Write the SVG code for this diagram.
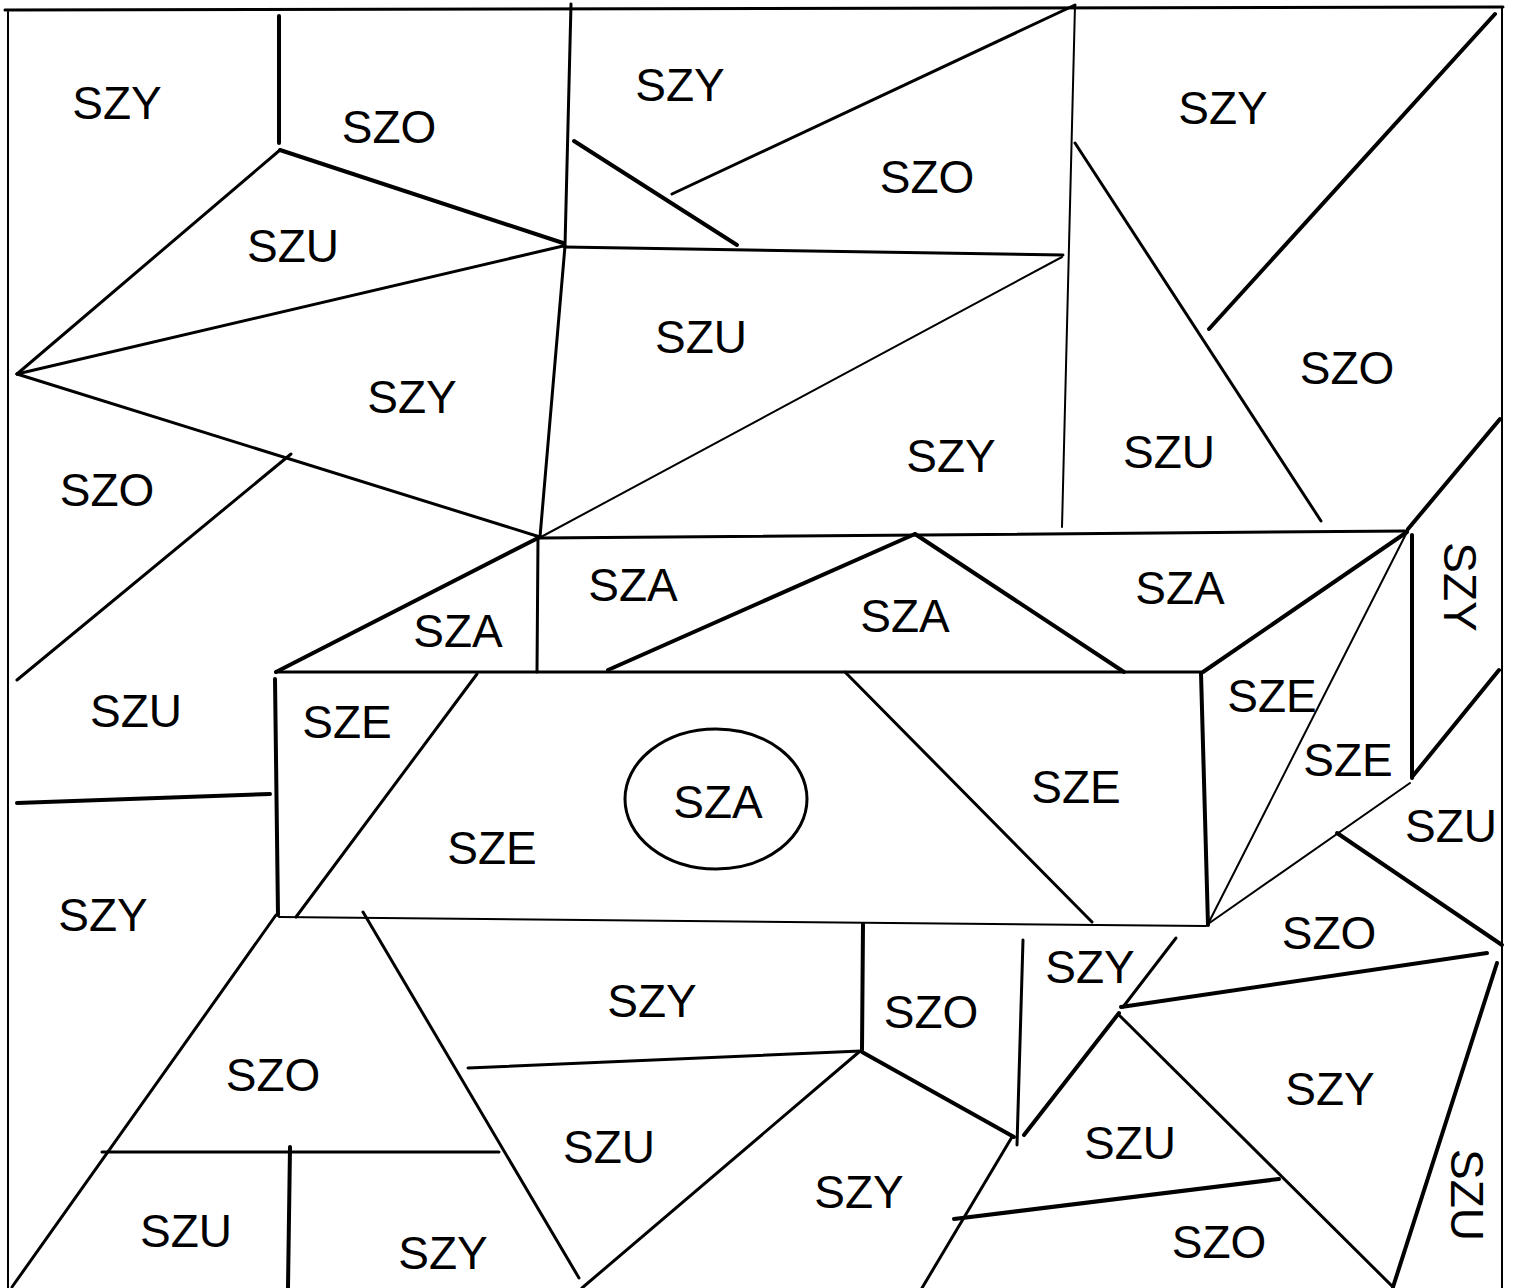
<svg xmlns="http://www.w3.org/2000/svg" width="1518" height="1288" viewBox="0 0 1518 1288">
<style>
line,ellipse{stroke:#000;fill:none;stroke-linecap:round}
.t{stroke-width:4}
.m{stroke-width:3}
.n{stroke-width:2}
text{font-family:"Liberation Sans",Arial,sans-serif;font-size:46px;fill:#000;text-anchor:middle}
</style>
<rect width="1518" height="1288" fill="#fff"/>
<g id="lines">
<line class="m" x1="5" y1="10" x2="1503" y2="7"/>
<line class="n" x1="8" y1="12" x2="8" y2="1288"/>
<line class="n" x1="1502" y1="8" x2="1502" y2="1288"/>
<line class="t" x1="279" y1="16" x2="279" y2="143"/>
<line class="t" x1="280" y1="150" x2="563" y2="243"/>
<line class="m" x1="280" y1="150" x2="17" y2="374"/>
<line class="m" x1="17" y1="374" x2="563" y2="246"/>
<line class="m" x1="17" y1="374" x2="540" y2="537"/>
<line class="m" x1="291" y1="454" x2="17" y2="680"/>
<line class="m" x1="571" y1="4" x2="565" y2="246"/>
<line class="m" x1="565" y1="246" x2="540" y2="537"/>
<line class="t" x1="574" y1="141" x2="737" y2="245"/>
<line class="m" x1="672" y1="194" x2="1075" y2="5"/>
<line class="m" x1="564" y1="247" x2="1063" y2="255"/>
<line class="n" x1="1062" y1="257" x2="541" y2="537"/>
<line class="n" x1="1075" y1="5" x2="1062" y2="527"/>
<line class="m" x1="1075" y1="143" x2="1321" y2="521"/>
<line class="t" x1="1209" y1="329" x2="1495" y2="14"/>
<line class="t" x1="1500" y1="419" x2="1408" y2="529"/>
<line class="m" x1="540" y1="538" x2="1407" y2="531"/>
<line class="m" x1="538" y1="538" x2="537" y2="672"/>
<line class="t" x1="540" y1="537" x2="276" y2="672"/>
<line class="m" x1="276" y1="672" x2="1201" y2="672"/>
<line class="t" x1="608" y1="670" x2="915" y2="534"/>
<line class="t" x1="915" y1="534" x2="1124" y2="672"/>
<line class="t" x1="1203" y1="672" x2="1407" y2="532"/>
<line class="n" x1="1407" y1="532" x2="1208" y2="924"/>
<line class="t" x1="1412" y1="535" x2="1412" y2="778"/>
<line class="t" x1="1412" y1="777" x2="1499" y2="670"/>
<line class="n" x1="1208" y1="924" x2="1410" y2="783"/>
<line class="t" x1="1337" y1="833" x2="1502" y2="945"/>
<line class="t" x1="1201" y1="673" x2="1208" y2="925"/>
<line class="t" x1="275" y1="679" x2="278" y2="915"/>
<line class="m" x1="477" y1="674" x2="296" y2="917"/>
<line class="m" x1="845" y1="672" x2="1092" y2="922"/>
<line class="t" x1="17" y1="803" x2="270" y2="794"/>
<line class="n" x1="279" y1="917" x2="1206" y2="926"/>
<ellipse class="m" cx="716" cy="799" rx="91" ry="70"/>
<line class="m" x1="276" y1="915" x2="12" y2="1287"/>
<line class="m" x1="363" y1="912" x2="579" y2="1278"/>
<line class="m" x1="468" y1="1068" x2="861" y2="1051"/>
<line class="m" x1="102" y1="1152" x2="499" y2="1152"/>
<line class="t" x1="290" y1="1147" x2="288" y2="1288"/>
<line class="m" x1="582" y1="1288" x2="859" y2="1052"/>
<line class="t" x1="863" y1="924" x2="862" y2="1050"/>
<line class="t" x1="862" y1="1052" x2="1014" y2="1137"/>
<line class="m" x1="1023" y1="940" x2="1017" y2="1145"/>
<line class="m" x1="1176" y1="938" x2="1123" y2="1007"/>
<line class="t" x1="1119" y1="1013" x2="1024" y2="1135"/>
<line class="t" x1="1121" y1="1007" x2="1487" y2="953"/>
<line class="t" x1="1497" y1="963" x2="1393" y2="1287"/>
<line class="m" x1="1119" y1="1015" x2="1393" y2="1287"/>
<line class="m" x1="1012" y1="1137" x2="922" y2="1288"/>
<line class="t" x1="954" y1="1219" x2="1279" y2="1179"/>
</g>
<g id="labels">
<text x="117" y="119">SZY</text>
<text x="389" y="143">SZO</text>
<text x="293" y="262">SZU</text>
<text x="412" y="413">SZY</text>
<text x="107" y="506">SZO</text>
<text x="680" y="101">SZY</text>
<text x="701" y="353">SZU</text>
<text x="927" y="193">SZO</text>
<text x="1223" y="124">SZY</text>
<text x="1347" y="384">SZO</text>
<text x="951" y="472">SZY</text>
<text x="1169" y="468">SZU</text>
<text x="458" y="647">SZA</text>
<text x="633" y="601">SZA</text>
<text x="905" y="632">SZA</text>
<text x="1180" y="604">SZA</text>
<text transform="translate(1460,587) rotate(90)" x="0" y="16">SZY</text>
<text x="136" y="727">SZU</text>
<text x="347" y="738">SZE</text>
<text x="492" y="864">SZE</text>
<text x="718" y="818">SZA</text>
<text x="1076" y="803">SZE</text>
<text x="1272" y="712">SZE</text>
<text x="1348" y="776">SZE</text>
<text x="1451" y="842">SZU</text>
<text x="103" y="931">SZY</text>
<text x="1329" y="949">SZO</text>
<text x="1090" y="983">SZY</text>
<text x="931" y="1028">SZO</text>
<text x="652" y="1017">SZY</text>
<text x="273" y="1091">SZO</text>
<text x="1330" y="1105">SZY</text>
<text x="609" y="1163">SZU</text>
<text x="1130" y="1159">SZU</text>
<text x="859" y="1208">SZY</text>
<text x="186" y="1247">SZU</text>
<text x="443" y="1269">SZY</text>
<text x="1219" y="1258">SZO</text>
<text transform="translate(1467,1195) rotate(90)" x="0" y="16">SZU</text>
</g>
</svg>
